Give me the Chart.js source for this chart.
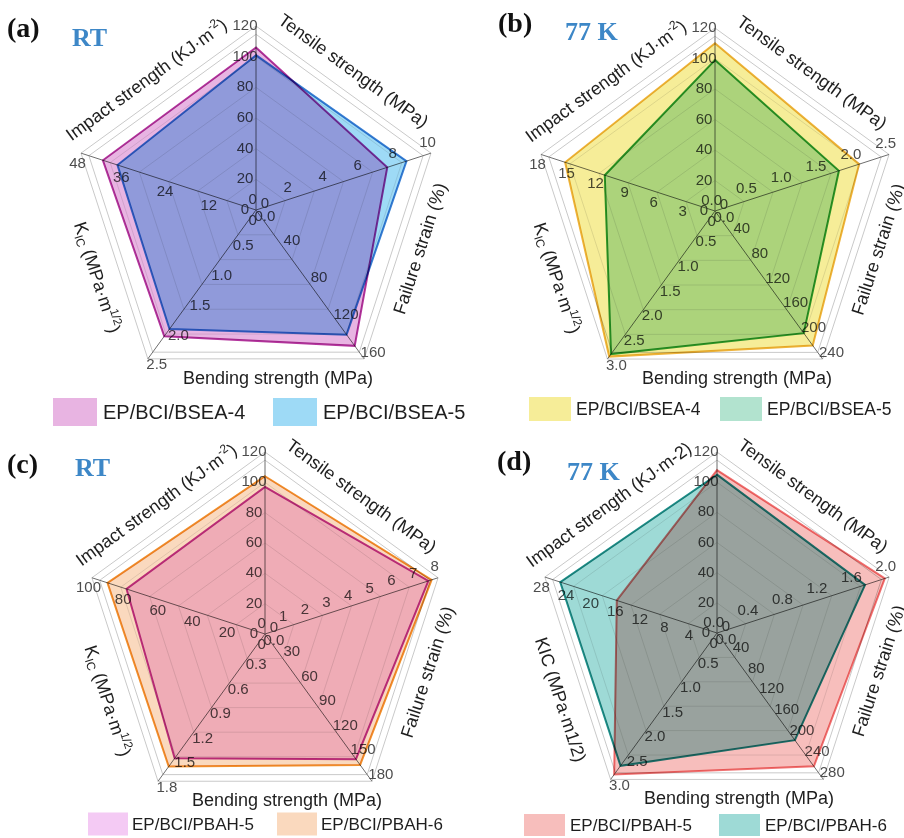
<!DOCTYPE html>
<html>
<head>
<meta charset="utf-8">
<script src="https://cdn.jsdelivr.net/npm/chart.js@4.4.1/dist/chart.umd.min.js"></script>
<style>
  html, body { margin: 0; padding: 0; background: #fff; }
  #wrap { position: relative; width: 904px; height: 838px; overflow: hidden; background: #fff; }
  #wrap canvas { position: absolute; left: 0; top: 0; }
</style>
</head>
<body>
<div id="wrap">
  <canvas id="chartA" width="904" height="838"></canvas>
  <canvas id="chartB" width="904" height="838"></canvas>
  <canvas id="chartC" width="904" height="838"></canvas>
  <canvas id="chartD" width="904" height="838"></canvas>
</div>
<script>
// ---- Properties on the five spokes, clockwise from the top ----
const properties = ['Tensile strength (MPa)', 'Failure strain (%)', 'Bending strength (MPa)',
                    'K_{IC} (MPa·m^{1/2})', 'Impact strength (KJ·m^{-2})'];
const propertiesPlain = ['Tensile strength (MPa)', 'Failure strain (%)', 'Bending strength (MPa)',
                         'KIC (MPa·m1/2)', 'Impact strength (KJ·m-2)'];

// ---- Tick labels along each spoke (last entry = spoke end) ----
const ticksA = [
  ['0', '20', '40', '60', '80', '100', '120'],
  ['0', '2', '4', '6', '8', '10'],
  ['0', '40', '80', '120', '160'],
  ['0.0', '0.5', '1.0', '1.5', '2.0', '2.5'],
  ['0', '12', '24', '36', '48']
];
const ticksB = [
  ['0', '20', '40', '60', '80', '100', '120'],
  ['0.0', '0.5', '1.0', '1.5', '2.0', '2.5'],
  ['0', '40', '80', '120', '160', '200', '240'],
  ['0.0', '0.5', '1.0', '1.5', '2.0', '2.5', '3.0'],
  ['0', '3', '6', '9', '12', '15', '18']
];
const ticksC = [
  ['0', '20', '40', '60', '80', '100', '120'],
  ['0', '1', '2', '3', '4', '5', '6', '7', '8'],
  ['0', '30', '60', '90', '120', '150', '180'],
  ['0.0', '0.3', '0.6', '0.9', '1.2', '1.5', '1.8'],
  ['0', '20', '40', '60', '80', '100']
];
const ticksD = [
  ['0', '20', '40', '60', '80', '100', '120'],
  ['0.0', '0.4', '0.8', '1.2', '1.6', '2.0'],
  ['0', '40', '80', '120', '160', '200', '240', '280'],
  ['0.0', '0.5', '1.0', '1.5', '2.0', '2.5', '3.0'],
  ['0', '4', '8', '12', '16', '20', '24', '28']
];

// ---- Series names ----
const namesBSEA = ['EP/BCI/BSEA-4', 'EP/BCI/BSEA-5'];
const namesPBAH = ['EP/BCI/PBAH-5', 'EP/BCI/PBAH-6'];

// ---- Values: [tensile, failure strain, bending, KIC, impact] ----
const bsea4RT  = [106, 7.5, 146, 2.12, 42];
const bsea5RT  = [101, 8.6, 134, 2.0, 38];
const bsea4LN2 = [110, 2.07, 218, 2.95, 15.5];
const bsea5LN2 = [99, 1.78, 198, 2.9, 11.4];
const pbah5RT  = [97, 7.55, 153, 1.52, 80];
const pbah6RT  = [104, 7.7, 160, 1.62, 91];
const pbah5LN2 = [108, 1.95, 255, 2.9, 16.3];
const pbah6LN2 = [105, 1.72, 205, 2.72, 25.5];

// ---- Drawing helpers ----
const SANS = "'Liberation Sans', Arial, Helvetica, sans-serif";
const SERIF = "'Liberation Serif', 'Times New Roman', serif";
const GRID_STEPS = [0, 1/6, 2/6, 3/6, 4/6, 5/6, 0.955, 1];
const TICK_GAP = 11;
const TITLE_GAP = [20, 20, 20, 24, 20];
const TITLE_SHIFT = [-3, 14, 22, 15, -12];

function parseRich(s) {
  const parts = [];
  const re = /([_^])\{([^}]*)\}/g;
  let last = 0, m;
  while ((m = re.exec(s))) {
    if (m.index > last) parts.push({ t: s.slice(last, m.index), k: 0 });
    parts.push({ t: m[2], k: m[1] === '_' ? 1 : -1 });
    last = re.lastIndex;
  }
  if (last < s.length) parts.push({ t: s.slice(last), k: 0 });
  return parts;
}

function drawRich(ctx, s, x, y, angle, size) {
  const parts = parseRich(s);
  const small = Math.round(size * 0.68);
  let total = 0;
  parts.forEach(p => {
    ctx.font = (p.k ? small : size) + 'px ' + SANS;
    p.w = ctx.measureText(p.t).width;
    total += p.w;
  });
  ctx.save();
  ctx.translate(x, y);
  ctx.rotate(angle);
  ctx.textBaseline = 'middle';
  ctx.textAlign = 'left';
  ctx.fillStyle = '#1e1e1e';
  let cx = -total / 2;
  parts.forEach(p => {
    ctx.font = (p.k ? small : size) + 'px ' + SANS;
    const dy = p.k === 1 ? size * 0.28 : (p.k === -1 ? -size * 0.34 : 0);
    ctx.fillText(p.t, cx, dy);
    cx += p.w;
  });
  ctx.restore();
}

// Per-spoke tick labels, titles along the outer edges, heading and legend
const radarDecor = {
  id: 'radarDecor',
  beforeDatasetsDraw(chart, args, opts) {
    const sc = chart.scales.r, ctx = chart.ctx;
    ctx.save();
    ctx.font = '15px ' + SANS;
    ctx.fillStyle = '#4d4d4d';
    ctx.textAlign = 'center';
    ctx.textBaseline = 'middle';
    opts.ticks.forEach((labels, i) => {
      const max = parseFloat(labels[labels.length - 1]);
      const a = sc.getIndexAngle(i) - Math.PI / 2;
      const nx = Math.sin(a), ny = -Math.cos(a);
      labels.forEach(lab => {
        const p = sc.getPointPositionForValue(i, parseFloat(lab) / max);
        ctx.fillText(lab, p.x + nx * TICK_GAP, p.y + ny * TICK_GAP);
      });
    });
    ctx.restore();
    // fills combine like overlapping transparent films
    ctx.save();
    ctx.globalCompositeOperation = 'multiply';
  },
  afterDatasetsDraw(chart, args, opts) {
    const sc = chart.scales.r, ctx = chart.ctx;
    ctx.restore();
    const n = opts.titles.length;
    for (let i = 0; i < n; i++) {
      const p1 = sc.getPointPositionForValue(i, 1);
      const p2 = sc.getPointPositionForValue((i + 1) % n, 1);
      const mx = (p1.x + p2.x) / 2, my = (p1.y + p2.y) / 2;
      let ang = Math.atan2(p2.y - p1.y, p2.x - p1.x);
      if (ang > Math.PI / 2 + 1e-6 || ang < -Math.PI / 2 - 1e-6) ang += Math.PI;
      const vx = mx - sc.xCenter, vy = my - sc.yCenter;
      const vl = Math.hypot(vx, vy);
      const tx = mx + vx / vl * TITLE_GAP[i] + Math.cos(ang) * TITLE_SHIFT[i];
      const ty = my + vy / vl * TITLE_GAP[i] + Math.sin(ang) * TITLE_SHIFT[i];
      drawRich(ctx, opts.titles[i], tx, ty, ang, opts.titleSize);
    }
    // heading
    ctx.save();
    ctx.textBaseline = 'middle';
    ctx.textAlign = 'left';
    opts.heading.forEach(h => {
      ctx.font = 'bold ' + h.size + 'px ' + SERIF;
      ctx.fillStyle = h.color;
      ctx.fillText(h.text, h.x, h.y);
    });
    // legend
    const lg = opts.legend;
    ctx.font = lg.font + 'px ' + SANS;
    chart.data.datasets.forEach((ds, k) => {
      const x = lg.xs[k];
      ctx.fillStyle = ds.backgroundColor;
      ctx.fillRect(x, lg.y - lg.boxH / 2, lg.boxW, lg.boxH);
      ctx.fillStyle = '#1e1e1e';
      ctx.fillText(ds.label, x + lg.boxW + lg.gap, lg.y + 1);
    });
    ctx.restore();
  }
};

function makePanel(canvasId, cfg) {
  const W = 904, H = 838;
  const maxima = cfg.ticks.map(t => parseFloat(t[t.length - 1]));
  const [cx, cy] = cfg.center, R = cfg.radius;
  const padding = { left: cx - R, top: cy - R, right: W - (cx + R), bottom: H - (cy + R) };
  const datasets = cfg.series.map((s, k) => ({
    label: cfg.names[k],
    data: s.map((v, i) => v / maxima[i]),
    backgroundColor: cfg.fills[k],
    borderColor: cfg.borders[k],
    borderWidth: 2,
    pointRadius: 0,
    fill: true,
    order: cfg.series.length - 1 - k
  }));
  return new Chart(document.getElementById(canvasId), {
    type: 'radar',
    data: { labels: cfg.labels, datasets },
    options: {
      responsive: false,
      animation: false,
      layout: { padding },
      elements: { line: { tension: 0, borderJoinStyle: 'miter' } },
      plugins: {
        legend: { display: false },
        tooltip: { enabled: false },
        radarDecor: {
          ticks: cfg.ticks,
          titles: cfg.titles,
          titleSize: 18,
          heading: cfg.heading,
          legend: cfg.legend
        }
      },
      scales: {
        r: {
          min: 0,
          max: 1,
          startAngle: 0,
          afterBuildTicks: sc => { sc.ticks = GRID_STEPS.map(v => ({ value: v })); },
          ticks: { display: false },
          pointLabels: { display: false },
          grid: {
            circular: false,
            lineWidth: 1,
            color: c => (c.tick && c.tick.value >= 0.95) ? '#c9c9c9' : 'rgba(0,0,0,0.10)'
          },
          angleLines: { color: '#6e6e6e', lineWidth: 1 }
        }
      }
    },
    plugins: [radarDecor]
  });
}

const BLUE = '#3d87c7';

makePanel('chartA', {
  center: [256, 210], radius: 184,
  labels: properties, titles: properties, ticks: ticksA,
  series: [bsea4RT, bsea5RT], names: namesBSEA,
  fills: ['rgb(232,180,226)', 'rgb(158,218,246)'],
  borders: ['#b3359d', '#3a80d2'],
  heading: [
    { text: '(a)', x: 7, y: 30, size: 28, color: '#111' },
    { text: 'RT', x: 72, y: 39, size: 26, color: BLUE }
  ],
  legend: { y: 412, font: 20, boxW: 44, boxH: 28, xs: [53, 273], gap: 6 }
});

makePanel('chartB', {
  center: [715, 211], radius: 183,
  labels: properties, titles: properties, ticks: ticksB,
  series: [bsea4LN2, bsea5LN2], names: namesBSEA,
  fills: ['rgb(246,237,152)', 'rgb(178,227,207)'],
  borders: ['#eeb43c', '#2f9f3b'],
  heading: [
    { text: '(b)', x: 498, y: 25, size: 28, color: '#111' },
    { text: '77 K', x: 565, y: 33, size: 26, color: BLUE }
  ],
  legend: { y: 409, font: 17.5, boxW: 42, boxH: 24, xs: [529, 720], gap: 5 }
});

makePanel('chartC', {
  center: [265, 634], radius: 182,
  labels: properties, titles: properties, ticks: ticksC,
  series: [pbah5RT, pbah6RT], names: namesPBAH,
  fills: ['rgb(244,202,244)', 'rgb(250,217,190)'],
  borders: ['#c0379f', '#f0912c'],
  heading: [
    { text: '(c)', x: 7, y: 466, size: 28, color: '#111' },
    { text: 'RT', x: 75, y: 469, size: 26, color: BLUE }
  ],
  legend: { y: 824, font: 17, boxW: 40, boxH: 23, xs: [88, 277], gap: 4 }
});

makePanel('chartD', {
  center: [717, 633], radius: 181,
  labels: propertiesPlain, titles: propertiesPlain, ticks: ticksD,
  series: [pbah5LN2, pbah6LN2], names: namesPBAH,
  fills: ['rgb(247,190,188)', 'rgb(158,218,214)'],
  borders: ['#ef7373', '#1f8f8a'],
  heading: [
    { text: '(d)', x: 497, y: 463, size: 28, color: '#111' },
    { text: '77 K', x: 567, y: 473, size: 26, color: BLUE }
  ],
  legend: { y: 825, font: 17, boxW: 41, boxH: 22, xs: [524, 719], gap: 5 }
});
</script>
</body>
</html>
